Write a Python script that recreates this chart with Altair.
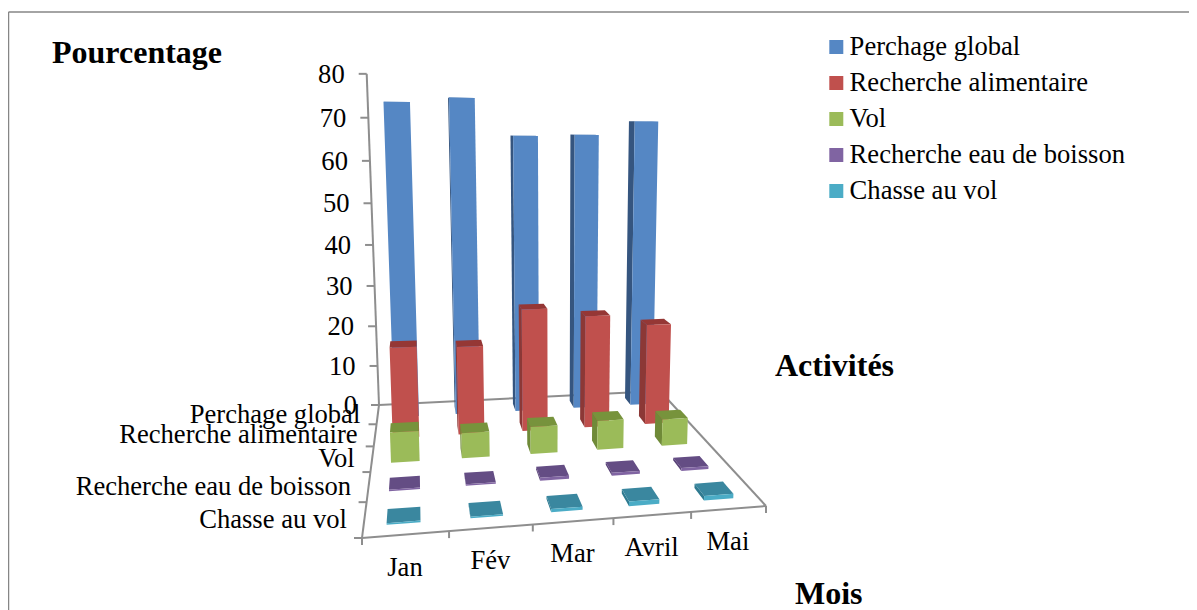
import altair as alt
import numpy as np
import pandas as pd

months = ["Jan", "Fév", "Mar", "Avril", "Mai"]
activities = ["Perchage global", "Recherche alimentaire", "Vol", "Recherche eau de boisson", "Chasse au vol"]
perchage = [73.5, 74.7, 66.3, 66.7, 70.0]
alimentaire = [20.7, 20.3, 28.3, 26.3, 23.8]
vol = [6.5, 5.5, 6.0, 6.5, 6.0]
eau = [0.3, 0.3, 0.6, 0.6, 0.6]
chasse = [0.3, 0.3, 0.6, 0.9, 0.9]
series = [perchage, alimentaire, vol, eau, chasse]
y_ticks = [0, 10, 20, 30, 40, 50, 60, 70, 80]

front_cols = ["#5587C4", "#C0504D", "#9BBB59", "#8064A2", "#4BACC6"]
top_cols = ["#4A76AD", "#953735", "#77933C", "#644D84", "#3A879F"]
side_cols = ["#35557F", "#8C3836", "#6F8A38", "#5A4378", "#2F7A90"]

W, H = 1181, 602
AXIS = "#8E8E8E"
FONT = "Liberation Serif"


def homography(src, dst):
    A = []
    for (a, b), (x, y) in zip(src, dst):
        A.append([a, b, 1, 0, 0, 0, -x * a, -x * b, -x])
        A.append([0, 0, 0, a, b, 1, -y * a, -y * b, -y])
    return np.linalg.svd(np.array(A, float))[2][-1].reshape(3, 3)


FLOOR = homography([(0, 0), (1, 0), (0, 1), (1, 1)], [(362, 538), (766, 506), (379, 405), (660, 391)])
lam = (FLOOR @ np.array([0, 1, 1]))[2]
s = -0.0646 * lam
C = s * np.array([557.0, 5200.0, 1.0])


def proj(u, v, value=0.0):
    p = FLOOR @ np.array([u, v, 1.0]) + C * (value / 80.0)
    return p[0] / p[2], p[1] / p[2]


def spans(poly):
    """Turn a convex polygon into rows of (y, x_left, x_right)."""
    rows = []
    n = len(poly)
    for y in sorted({p[1] for p in poly}):
        xs = []
        for k in range(n):
            (x1, y1), (x2, y2) = poly[k], poly[(k + 1) % n]
            if min(y1, y2) <= y <= max(y1, y2):
                if y1 == y2:
                    xs += [x1, x2]
                else:
                    xs.append(x1 + (x2 - x1) * (y - y1) / (y2 - y1))
        rows.append((y, min(xs), max(xs)))
    return rows


BAR = 0.40
rows = []
face = 0


def add(poly, key):
    global face
    face += 1
    for y, a, b in spans(poly):
        rows.append(dict(face=face, key=key, y=y, x=a, x2=b))


for j, (name, vals) in enumerate(zip(activities, series)):
    vc = 1 - (j + 0.5) / 5
    v0, v1 = vc - BAR / 10, vc + BAR / 10
    for i, val in enumerate(vals):
        uc = (i + 0.5) / 5 - 0.006
        u0, u1 = uc - BAR / 10, uc + BAR / 10
        if proj(u0, v1)[0] < proj(u0, v0)[0]:
            add([proj(u0, v0), proj(u0, v1), proj(u0, v1, val), proj(u0, v0, val)], name + "|side")
        if proj(u1, v1)[0] > proj(u1, v0)[0]:
            add([proj(u1, v0), proj(u1, v1), proj(u1, v1, val), proj(u1, v0, val)], name + "|side")
        add([proj(u0, v0, val), proj(u1, v0, val), proj(u1, v1, val), proj(u0, v1, val)], name + "|top")
        add([proj(u0, v0), proj(u1, v0), proj(u1, v0, val), proj(u0, v0, val)], name)

bars = pd.DataFrame(rows)
domain = activities + [a + "|top" for a in activities] + [a + "|side" for a in activities]
palette = front_cols + top_cols + side_cols

xs = alt.Scale(domain=[8, 8 + W], zero=False, nice=False)
ys = alt.Scale(domain=[8 + H, 8], zero=False, nice=False)
X = alt.X("x:Q", scale=xs, axis=None)
Y = alt.Y("y:Q", scale=ys, axis=None)

bar_layer = alt.Chart(bars).mark_area(orient="horizontal", opacity=1, interpolate="linear").encode(
    x=X,
    x2="x2:Q",
    y=Y,
    detail="face:N",
    color=alt.Color(
        "key:N",
        scale=alt.Scale(domain=domain, range=palette),
        legend=alt.Legend(
            orient="none", legendX=815, legendY=25, title=None, values=activities,
            symbolType="square", symbolSize=196, symbolStrokeWidth=0,
            labelFont=FONT, labelFontSize=26.6, labelColor="black", labelLimit=400,
            rowPadding=8, labelOffset=0, clipHeight=28, padding=0,
        ),
    ),
)

# axis lines and ticks
seg = []


def line(a, b):
    seg.append(dict(x=a[0], y=a[1], x2=b[0], y2=b[1]))


line(proj(0, 1, 0), proj(0, 1, 80))
for t in y_ticks:
    p = proj(0, 1, t)
    line(p, (p[0] - 8, p[1]))
line(proj(0, 0), proj(0, 1))
line(proj(0, 0), proj(1, 0))
line(proj(0, 1), proj(1, 1))
line(proj(1, 0), proj(1, 1))
for k in range(6):
    p = proj(k / 5, 0)
    line(p, (p[0], p[1] + 7))
    p = proj(0, k / 5)
    line(p, (p[0] - 8, p[1]))
seg_df = pd.DataFrame(seg)
rules = alt.Chart(seg_df).mark_rule(color=AXIS, strokeWidth=2).encode(x=X, y=Y, x2="x2:Q", y2="y2:Q")

# frame around the chart: top and left sides only are in the picture
frame = pd.DataFrame([
    dict(x=8.5, y=12, x2=1189, y2=12),
    dict(x=8.5, y=12, x2=8.5, y2=610),
])
frame_layer = alt.Chart(frame).mark_rule(color="#868686", strokeWidth=1.5).encode(x=X, y=Y, x2="x2:Q", y2="y2:Q")

labels = []
for t in y_ticks:
    p = proj(0, 1, t)
    labels.append(dict(x=p[0] - 22, y=p[1] + 1, t=str(t)))
for j, a in enumerate(activities):
    p = proj(0, 1 - (j + 0.5) / 5)
    labels.append(dict(x=p[0] - 17.5, y=p[1] + 0.5, t=a))
label_layer = alt.Chart(pd.DataFrame(labels)).mark_text(
    font=FONT, fontSize=26.6, align="right", baseline="middle", color="black"
).encode(x=X, y=Y, text="t:N")

m_labels = []
for i, m in enumerate(months):
    p = proj((i + 0.5) / 5, 0)
    m_labels.append(dict(x=p[0] - 1, y=p[1] + 33, t=m))
month_layer = alt.Chart(pd.DataFrame(m_labels)).mark_text(
    font=FONT, fontSize=26.6, align="center", baseline="middle", color="black"
).encode(x=X, y=Y, text="t:N")

titles = pd.DataFrame([
    dict(x=52, y=63, t="Pourcentage"),
    dict(x=775, y=376, t="Activités"),
    dict(x=795, y=604, t="Mois"),
])
title_layer = alt.Chart(titles).mark_text(
    font=FONT, fontSize=32, fontWeight="bold", align="left", baseline="alphabetic", color="black"
).encode(x=X, y=Y, text="t:N")

chart = alt.layer(frame_layer, rules, bar_layer, label_layer, month_layer, title_layer).properties(
    width=W, height=H, padding=0, autosize=alt.AutoSizeParams(type="none")
).configure_view(stroke=None)

chart.save("out.html", embed_options={"renderer": "svg", "actions": False})
